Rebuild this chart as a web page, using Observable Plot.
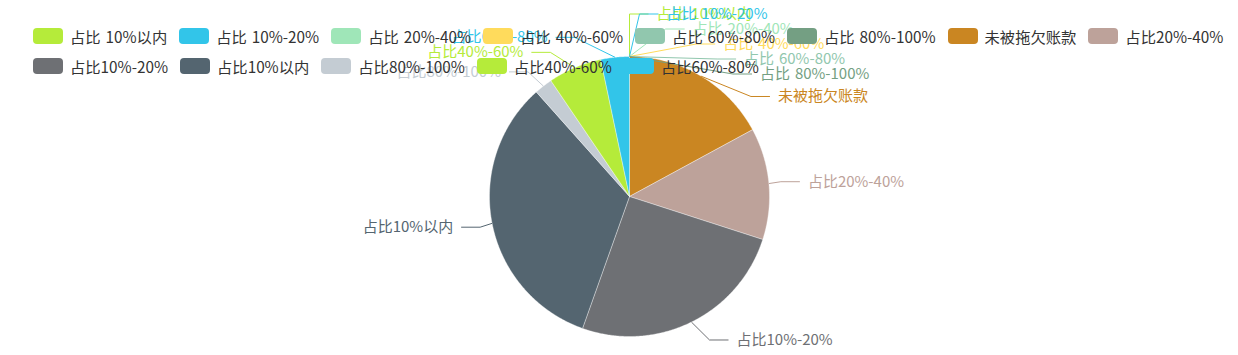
<!DOCTYPE html>
<html>
<head>
<meta charset="utf-8">
<script src="https://cdn.jsdelivr.net/npm/d3@7"></script>
<script src="https://cdn.jsdelivr.net/npm/@observablehq/plot@0.6"></script>
<style>
  body { margin: 0; background: #fff; font-family: "Noto Sans CJK SC", "Noto Sans", sans-serif; }
  #wrap { position: relative; width: 1238px; height: 355px; overflow: hidden; }
  #chart { position: absolute; left: 0; top: 0; }
  #chart text { word-spacing: 1.5px; }
  #legend { position: absolute; left: 33px; top: 28px; font-size: 15.3px; word-spacing: 1.5px; color: #333; z-index: 2; }
  .row { display: flex; align-items: center; height: 16px; margin-bottom: 13.5px; white-space: nowrap; }
  .item { display: flex; align-items: center; margin-right: 12px; }
  .sw { width: 30px; height: 16px; border-radius: 4px; margin-right: 7px; flex: none; }
</style>
</head>
<body>
<div id="wrap"><div id="chart"></div><div id="legend"></div></div>
<script>
// ---- data ----
const names = [
  "占比 10%以内", "占比 10%-20%", "占比 20%-40%", "占比 40%-60%", "占比 60%-80%", "占比 80%-100%",
  "未被拖欠账款", "占比20%-40%", "占比10%-20%", "占比10%以内", "占比80%-100%", "占比40%-60%", "占比60%-80%"
];
const values = [0, 0, 0, 0, 0, 0, 17.1, 12.9, 25.5, 33.0, 2.1, 6.2, 3.3];
const palette = ["#b5eb3a", "#32c5e9", "#9fe6b8", "#ffdb5c", "#91c7ae", "#749f83",
                 "#ca8622", "#bda29a", "#6e7074", "#546570", "#c4ccd3"];
const legendRows = [names.slice(0, 8), names.slice(8)];

// ---- layout constants ----
const W = 1238, H = 355, CX = 629, CY = 196, R = 140;
const LEN = 20, LEN2 = 19, DIST = 8, LH = 15, TOP = 8;
const colors = names.map((_, i) => palette[i % palette.length]);

// ---- pie geometry (clockwise from top) ----
const total = d3.sum(values);
let acc = 0;
const slices = names.map((name, i) => {
  const a0 = acc / total * 2 * Math.PI;
  acc += values[i];
  const a1 = acc / total * 2 * Math.PI;
  return {name, value: values[i], a0, a1};
});

// ---- outside labels, echarts-like overlap avoidance ----
const labels = slices.map(s => {
  const mid = (s.a0 + s.a1) / 2, dx = Math.sin(mid), dy = -Math.cos(mid);
  const dir = dx < 0 ? -1 : 1;
  const x1 = CX + R * dx, y1 = CY + R * dy;
  const x2 = CX + (R + LEN) * dx, y2 = CY + (R + LEN) * dy;
  const x3 = x2 + dir * LEN2;
  return {name: s.name, x1, y1, x: x3 + dir * DIST, y: y2, dir};
});

function adjust(list, dir) {
  list.sort((a, b) => a.y - b.y);
  const n = list.length;
  function shiftUp(end, delta) {
    for (let j = end; j >= 0; j--) {
      if (list[j].y - delta < TOP) break;
      list[j].y -= delta;
      if (j > 0 && list[j].y > list[j - 1].y + LH) break;
    }
  }
  function shiftDown(start, end, delta) {
    for (let j = start; j < end; j++) {
      if (list[j].y + delta > H) break;
      list[j].y += delta;
      if (j > start && j + 1 < end && list[j + 1].y > list[j].y + LH) { shiftUp(j, delta / 2); return; }
    }
    shiftUp(end - 1, delta / 2);
  }
  let lastY = 0;
  for (let i = 0; i < n; i++) {
    const d = list[i].y - lastY;
    if (d < 0) shiftDown(i, n, -d);
    lastY = list[i].y + LH;
  }
  if (H - lastY < 0) shiftUp(n - 1, lastY - H);
  const RR = R + LEN + LEN2;
  const changeX = (arr, isDown) => {
    let last = isDown ? Infinity : 0;
    for (const l of arr) {
      const dyy = Math.abs(l.y - CY);
      let ddx = dyy < RR ? Math.sqrt(RR * RR - dyy * dyy) : Math.abs(l.x - CX);
      if (isDown && ddx >= last) ddx = last - 10;
      if (!isDown && ddx <= last) ddx = last + 10;
      l.x = CX + ddx * dir;
      last = ddx;
    }
  };
  changeX(list.filter(l => l.y < CY), false);
  changeX(list.filter(l => l.y >= CY), true);
}
adjust(labels.filter(l => l.dir > 0), 1);
adjust(labels.filter(l => l.dir < 0), -1);

// ---- convert to data units (radius = 1) ----
const ux = px => (px - CX) / R, uy = py => (CY - py) / R;

const piePts = [];
slices.filter(s => s.value > 0).forEach(s => {
  piePts.push({name: s.name, x: 0, y: 0});
  const steps = Math.max(2, Math.ceil((s.a1 - s.a0) / (Math.PI / 360)));
  for (let k = 0; k <= steps; k++) {
    const a = s.a0 + (s.a1 - s.a0) * k / steps;
    piePts.push({name: s.name, x: Math.sin(a), y: Math.cos(a)});
  }
  piePts.push({name: s.name, x: 0, y: 0});
});

const linePts = [];
labels.forEach(l => {
  const end = l.x - DIST * l.dir, elbow = end - LEN2 * l.dir;
  linePts.push({name: l.name, x: ux(l.x1), y: uy(l.y1)});
  linePts.push({name: l.name, x: ux(elbow), y: uy(l.y)});
  linePts.push({name: l.name, x: ux(end), y: uy(l.y)});
});
const textPts = labels.map(l => ({name: l.name, x: ux(l.x), y: uy(l.y), dir: l.dir}));

const chart = Plot.plot({
  width: W, height: H, margin: 0,
  x: {domain: [ux(0), ux(W)], range: [0, W], axis: null},
  y: {domain: [uy(H), uy(0)], range: [H, 0], axis: null},
  color: {domain: names, range: colors},
  style: {fontFamily: '"Noto Sans CJK SC", "Noto Sans", sans-serif', background: "transparent", overflow: "visible"},
  marks: [
    Plot.line(piePts, {x: "x", y: "y", z: "name", fill: "name", stroke: "#fff", strokeWidth: 0.6, strokeOpacity: 0.6, curve: "linear"}),
    Plot.line(linePts, {x: "x", y: "y", z: "name", stroke: "name", strokeWidth: 1, curve: "linear", strokeLinecap: "butt", strokeLinejoin: "miter"}),
    Plot.text(textPts.filter(d => d.dir > 0), {x: "x", y: "y", text: "name", fill: "name", textAnchor: "start", fontSize: 15}),
    Plot.text(textPts.filter(d => d.dir < 0), {x: "x", y: "y", text: "name", fill: "name", textAnchor: "end", fontSize: 15})
  ]
});
document.getElementById("chart").appendChild(chart);

// ---- legend ----
const legend = document.getElementById("legend");
legendRows.forEach(row => {
  const r = document.createElement("div");
  r.className = "row";
  row.forEach(name => {
    const it = document.createElement("div");
    it.className = "item";
    const sw = document.createElement("span");
    sw.className = "sw";
    sw.style.background = colors[names.indexOf(name)];
    const tx = document.createElement("span");
    tx.textContent = name;
    it.appendChild(sw); it.appendChild(tx);
    r.appendChild(it);
  });
  legend.appendChild(r);
});
</script>
</body>
</html>
